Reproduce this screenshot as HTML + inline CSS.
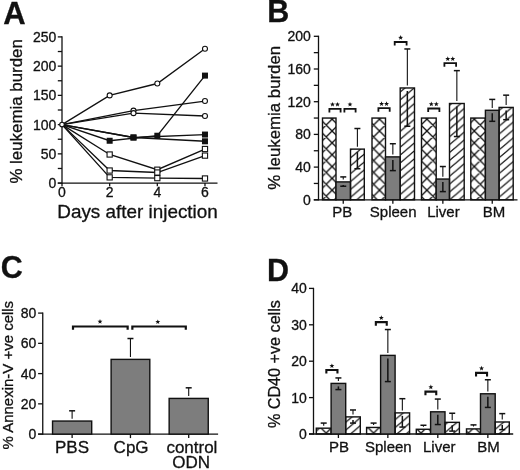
<!DOCTYPE html>
<html><head><meta charset="utf-8"><style>
html,body{margin:0;padding:0;background:#fff;}
svg{display:block;will-change:transform;}
text{font-family:"Liberation Sans", sans-serif;fill:#111;stroke:#111;stroke-width:0.3px;}
</style></head><body>
<svg width="520" height="470" viewBox="0 0 520 470">
<rect width="520" height="470" fill="#fff"/>
<text x="3.2" y="23.8" font-size="31" font-weight="bold">A</text>
<line x1="62" y1="36.3" x2="62" y2="183.7" stroke="#111" stroke-width="1.3"/>
<line x1="57.8" y1="183.1" x2="62" y2="183.1" stroke="#111" stroke-width="1.3"/>
<line x1="57.8" y1="168.48" x2="62" y2="168.48" stroke="#111" stroke-width="1.3"/>
<line x1="57.8" y1="153.86" x2="62" y2="153.86" stroke="#111" stroke-width="1.3"/>
<line x1="57.8" y1="139.24" x2="62" y2="139.24" stroke="#111" stroke-width="1.3"/>
<line x1="57.8" y1="124.62" x2="62" y2="124.62" stroke="#111" stroke-width="1.3"/>
<line x1="57.8" y1="110" x2="62" y2="110" stroke="#111" stroke-width="1.3"/>
<line x1="57.8" y1="95.38" x2="62" y2="95.38" stroke="#111" stroke-width="1.3"/>
<line x1="57.8" y1="80.76" x2="62" y2="80.76" stroke="#111" stroke-width="1.3"/>
<line x1="57.8" y1="66.14" x2="62" y2="66.14" stroke="#111" stroke-width="1.3"/>
<line x1="57.8" y1="51.52" x2="62" y2="51.52" stroke="#111" stroke-width="1.3"/>
<line x1="57.8" y1="36.9" x2="62" y2="36.9" stroke="#111" stroke-width="1.3"/>
<text x="56.3" y="188.1" font-size="14" text-anchor="end">0</text>
<text x="56.3" y="158.86" font-size="14" text-anchor="end">50</text>
<text x="56.3" y="129.62" font-size="14" text-anchor="end">100</text>
<text x="56.3" y="100.38" font-size="14" text-anchor="end">150</text>
<text x="56.3" y="71.14" font-size="14" text-anchor="end">200</text>
<text x="56.3" y="41.9" font-size="14" text-anchor="end">250</text>
<line x1="57.8" y1="183.1" x2="217.5" y2="183.1" stroke="#111" stroke-width="1.3"/>
<line x1="62" y1="183.1" x2="62" y2="186.3" stroke="#111" stroke-width="1.3"/>
<text x="62" y="197.4" font-size="14" text-anchor="middle">0</text>
<line x1="109.66" y1="183.1" x2="109.66" y2="186.3" stroke="#111" stroke-width="1.3"/>
<text x="109.66" y="197.4" font-size="14" text-anchor="middle">2</text>
<line x1="157.32" y1="183.1" x2="157.32" y2="186.3" stroke="#111" stroke-width="1.3"/>
<text x="157.32" y="197.4" font-size="14" text-anchor="middle">4</text>
<line x1="204.98" y1="183.1" x2="204.98" y2="186.3" stroke="#111" stroke-width="1.3"/>
<text x="204.98" y="197.4" font-size="14" text-anchor="middle">6</text>
<text x="57.3" y="217.5" font-size="18.5" textLength="160.5" lengthAdjust="spacingAndGlyphs">Days after injection</text>
<text x="22.3" y="183.6" font-size="17" textLength="144.5" lengthAdjust="spacingAndGlyphs" transform="rotate(-90 22.3 183.6)">% leukemia burden</text>
<polyline points="62,124.62 109.66,95.38 157.32,83.51 204.98,48.77" fill="none" stroke="#111" stroke-width="1.35"/>
<polyline points="62,124.62 133.49,110.58 204.98,101.05" fill="none" stroke="#111" stroke-width="1.35"/>
<polyline points="62,124.62 133.49,113.16 204.98,116.02" fill="none" stroke="#111" stroke-width="1.35"/>
<polyline points="62,124.62 109.66,140.76 157.32,135.73 204.98,75.61" fill="none" stroke="#111" stroke-width="1.35"/>
<polyline points="62,124.62 133.49,137.49 204.98,134.56" fill="none" stroke="#111" stroke-width="1.35"/>
<polyline points="62,124.62 133.49,137.49 204.98,141.29" fill="none" stroke="#111" stroke-width="1.35"/>
<polyline points="62,124.62 109.66,154.5 157.32,169.71 204.98,149.01" fill="none" stroke="#111" stroke-width="1.35"/>
<polyline points="62,124.62 109.66,170.53 157.32,172.52 204.98,155.61" fill="none" stroke="#111" stroke-width="1.35"/>
<polyline points="62,124.62 109.66,177.37 157.32,178.13 204.98,178.48" fill="none" stroke="#111" stroke-width="1.35"/>
<circle cx="109.66" cy="95.38" r="2.5" fill="#fff" stroke="#111" stroke-width="1.1"/>
<circle cx="157.32" cy="83.51" r="2.5" fill="#fff" stroke="#111" stroke-width="1.1"/>
<circle cx="204.98" cy="48.77" r="2.5" fill="#fff" stroke="#111" stroke-width="1.1"/>
<circle cx="133.49" cy="110.58" r="2.5" fill="#fff" stroke="#111" stroke-width="1.1"/>
<circle cx="204.98" cy="101.05" r="2.5" fill="#fff" stroke="#111" stroke-width="1.1"/>
<circle cx="133.49" cy="113.16" r="2.5" fill="#fff" stroke="#111" stroke-width="1.1"/>
<circle cx="204.98" cy="116.02" r="2.5" fill="#fff" stroke="#111" stroke-width="1.1"/>
<rect x="106.66" y="137.76" width="6" height="6" fill="#111"/>
<rect x="154.32" y="132.73" width="6" height="6" fill="#111"/>
<rect x="201.98" y="72.61" width="6" height="6" fill="#111"/>
<rect x="130.49" y="134.49" width="6" height="6" fill="#111"/>
<rect x="201.98" y="131.56" width="6" height="6" fill="#111"/>
<rect x="130.49" y="134.49" width="6" height="6" fill="#111"/>
<rect x="201.98" y="138.29" width="6" height="6" fill="#111"/>
<rect x="107.06" y="151.9" width="5.2" height="5.2" fill="#fff" stroke="#111" stroke-width="1.1"/>
<rect x="154.72" y="167.11" width="5.2" height="5.2" fill="#fff" stroke="#111" stroke-width="1.1"/>
<rect x="202.38" y="146.41" width="5.2" height="5.2" fill="#fff" stroke="#111" stroke-width="1.1"/>
<rect x="107.06" y="167.93" width="5.2" height="5.2" fill="#fff" stroke="#111" stroke-width="1.1"/>
<rect x="154.72" y="169.92" width="5.2" height="5.2" fill="#fff" stroke="#111" stroke-width="1.1"/>
<rect x="202.38" y="153.01" width="5.2" height="5.2" fill="#fff" stroke="#111" stroke-width="1.1"/>
<rect x="107.06" y="174.77" width="5.2" height="5.2" fill="#fff" stroke="#111" stroke-width="1.1"/>
<rect x="154.72" y="175.53" width="5.2" height="5.2" fill="#fff" stroke="#111" stroke-width="1.1"/>
<rect x="202.38" y="175.88" width="5.2" height="5.2" fill="#fff" stroke="#111" stroke-width="1.1"/>
<circle cx="62" cy="124.62" r="2.3" fill="#fff" stroke="#111" stroke-width="1.1"/>
<text x="267.3" y="21.8" font-size="30.5" font-weight="bold">B</text>
<line x1="318.5" y1="35.7" x2="318.5" y2="200.4" stroke="#111" stroke-width="1.3"/>
<line x1="313.8" y1="199.8" x2="318.5" y2="199.8" stroke="#111" stroke-width="1.3"/>
<line x1="313.8" y1="183.45" x2="318.5" y2="183.45" stroke="#111" stroke-width="1.3"/>
<line x1="313.8" y1="167.1" x2="318.5" y2="167.1" stroke="#111" stroke-width="1.3"/>
<line x1="313.8" y1="150.75" x2="318.5" y2="150.75" stroke="#111" stroke-width="1.3"/>
<line x1="313.8" y1="134.4" x2="318.5" y2="134.4" stroke="#111" stroke-width="1.3"/>
<line x1="313.8" y1="118.05" x2="318.5" y2="118.05" stroke="#111" stroke-width="1.3"/>
<line x1="313.8" y1="101.7" x2="318.5" y2="101.7" stroke="#111" stroke-width="1.3"/>
<line x1="313.8" y1="85.35" x2="318.5" y2="85.35" stroke="#111" stroke-width="1.3"/>
<line x1="313.8" y1="69" x2="318.5" y2="69" stroke="#111" stroke-width="1.3"/>
<line x1="313.8" y1="52.65" x2="318.5" y2="52.65" stroke="#111" stroke-width="1.3"/>
<line x1="313.8" y1="36.3" x2="318.5" y2="36.3" stroke="#111" stroke-width="1.3"/>
<text x="310.8" y="204.8" font-size="14" text-anchor="end">0</text>
<text x="310.8" y="172.1" font-size="14" text-anchor="end">40</text>
<text x="310.8" y="139.4" font-size="14" text-anchor="end">80</text>
<text x="310.8" y="106.7" font-size="14" text-anchor="end">120</text>
<text x="310.8" y="74" font-size="14" text-anchor="end">160</text>
<text x="310.8" y="41.3" font-size="14" text-anchor="end">200</text>
<line x1="313.8" y1="199.8" x2="517.5" y2="199.8" stroke="#111" stroke-width="1.3"/>
<text x="280.4" y="189.8" font-size="17" textLength="144" lengthAdjust="spacingAndGlyphs" transform="rotate(-90 280.4 189.8)">% leukemia burden</text>
<defs><pattern id="xh" patternUnits="userSpaceOnUse" x="332.1" y="154.7" width="11.85" height="11.85"><path d="M0,0 L11.85,11.85 M0,11.85 L11.85,0 M-1,1 L1,-1 M10.85,12.85 L12.85,10.85 M-1,10.85 L1,12.85 M10.85,-1 L12.85,1" stroke="#111" stroke-width="1.35" fill="none"/></pattern><pattern id="dh" patternUnits="userSpaceOnUse" x="0" y="6.07" width="9.282" height="7.89"><path d="M-9.282,15.78 L18.564,-7.89 M-18.564,15.78 L9.282,-7.89 M0,15.78 L27.846,-7.89" stroke="#111" stroke-width="1.3" fill="none"/></pattern></defs>
<rect x="322.5" y="118.05" width="13.5" height="81.75" fill="url(#xh)" stroke="#111" stroke-width="1.4"/>
<rect x="336" y="181.9" width="14.5" height="17.9" fill="#7d7d7d" stroke="#111" stroke-width="1.4"/>
<rect x="350.5" y="149.12" width="13.8" height="50.69" fill="url(#dh)" stroke="#111" stroke-width="1.4"/>
<line x1="343.25" y1="176.91" x2="343.25" y2="179.5" stroke="#111" stroke-width="1.1"/>
<line x1="340.25" y1="176.91" x2="346.25" y2="176.91" stroke="#111" stroke-width="1.5"/>
<line x1="343.25" y1="184.9" x2="343.25" y2="186.23" stroke="#111" stroke-width="1.5"/>
<line x1="340.25" y1="186.23" x2="346.25" y2="186.23" stroke="#111" stroke-width="1.5"/>
<line x1="357.4" y1="128.51" x2="357.4" y2="146.72" stroke="#111" stroke-width="1.1"/>
<line x1="354.4" y1="128.51" x2="360.4" y2="128.51" stroke="#111" stroke-width="1.5"/>
<line x1="357.4" y1="152.12" x2="357.4" y2="168.74" stroke="#111" stroke-width="1.5"/>
<line x1="354.4" y1="168.74" x2="360.4" y2="168.74" stroke="#111" stroke-width="1.5"/>
<line x1="343.25" y1="199.8" x2="343.25" y2="203.8" stroke="#111" stroke-width="1.3"/>
<text x="342.35" y="216.8" font-size="15" text-anchor="middle">PB</text>
<rect x="372" y="118.05" width="13.5" height="81.75" fill="url(#xh)" stroke="#111" stroke-width="1.4"/>
<rect x="385.5" y="156.88" width="14.7" height="42.92" fill="#7d7d7d" stroke="#111" stroke-width="1.4"/>
<rect x="400.2" y="87.97" width="14.3" height="111.83" fill="url(#dh)" stroke="#111" stroke-width="1.4"/>
<line x1="392.85" y1="143.72" x2="392.85" y2="154.48" stroke="#111" stroke-width="1.1"/>
<line x1="389.85" y1="143.72" x2="395.85" y2="143.72" stroke="#111" stroke-width="1.5"/>
<line x1="392.85" y1="159.88" x2="392.85" y2="170.62" stroke="#111" stroke-width="1.5"/>
<line x1="389.85" y1="170.62" x2="395.85" y2="170.62" stroke="#111" stroke-width="1.5"/>
<line x1="407.35" y1="48.97" x2="407.35" y2="85.57" stroke="#111" stroke-width="1.1"/>
<line x1="404.35" y1="48.97" x2="410.35" y2="48.97" stroke="#111" stroke-width="1.5"/>
<line x1="407.35" y1="90.97" x2="407.35" y2="126.23" stroke="#111" stroke-width="1.5"/>
<line x1="404.35" y1="126.23" x2="410.35" y2="126.23" stroke="#111" stroke-width="1.5"/>
<line x1="392.85" y1="199.8" x2="392.85" y2="203.8" stroke="#111" stroke-width="1.3"/>
<text x="393.15" y="216.8" font-size="15" text-anchor="middle">Spleen</text>
<rect x="421.5" y="118.05" width="14.7" height="81.75" fill="url(#xh)" stroke="#111" stroke-width="1.4"/>
<rect x="436.2" y="179.04" width="13.3" height="20.76" fill="#7d7d7d" stroke="#111" stroke-width="1.4"/>
<rect x="449.5" y="103.5" width="14.7" height="96.3" fill="url(#dh)" stroke="#111" stroke-width="1.4"/>
<line x1="442.85" y1="166.53" x2="442.85" y2="176.64" stroke="#111" stroke-width="1.1"/>
<line x1="439.85" y1="166.53" x2="445.85" y2="166.53" stroke="#111" stroke-width="1.5"/>
<line x1="442.85" y1="182.04" x2="442.85" y2="191.62" stroke="#111" stroke-width="1.5"/>
<line x1="439.85" y1="191.62" x2="445.85" y2="191.62" stroke="#111" stroke-width="1.5"/>
<line x1="456.85" y1="70.64" x2="456.85" y2="101.1" stroke="#111" stroke-width="1.1"/>
<line x1="453.85" y1="70.64" x2="459.85" y2="70.64" stroke="#111" stroke-width="1.5"/>
<line x1="456.85" y1="106.5" x2="456.85" y2="136.53" stroke="#111" stroke-width="1.5"/>
<line x1="453.85" y1="136.53" x2="459.85" y2="136.53" stroke="#111" stroke-width="1.5"/>
<line x1="442.85" y1="199.8" x2="442.85" y2="203.8" stroke="#111" stroke-width="1.3"/>
<text x="443.45" y="216.8" font-size="15" text-anchor="middle">Liver</text>
<rect x="470.8" y="118.05" width="14.6" height="81.75" fill="url(#xh)" stroke="#111" stroke-width="1.4"/>
<rect x="485.4" y="110.28" width="13.7" height="89.52" fill="#7d7d7d" stroke="#111" stroke-width="1.4"/>
<rect x="499.1" y="107.42" width="14.1" height="92.38" fill="url(#dh)" stroke="#111" stroke-width="1.4"/>
<line x1="492.25" y1="99.41" x2="492.25" y2="107.88" stroke="#111" stroke-width="1.1"/>
<line x1="489.25" y1="99.41" x2="495.25" y2="99.41" stroke="#111" stroke-width="1.5"/>
<line x1="492.25" y1="113.28" x2="492.25" y2="121.32" stroke="#111" stroke-width="1.5"/>
<line x1="489.25" y1="121.32" x2="495.25" y2="121.32" stroke="#111" stroke-width="1.5"/>
<line x1="506.15" y1="95.16" x2="506.15" y2="105.02" stroke="#111" stroke-width="1.1"/>
<line x1="503.15" y1="95.16" x2="509.15" y2="95.16" stroke="#111" stroke-width="1.5"/>
<line x1="506.15" y1="110.42" x2="506.15" y2="119.69" stroke="#111" stroke-width="1.5"/>
<line x1="503.15" y1="119.69" x2="509.15" y2="119.69" stroke="#111" stroke-width="1.5"/>
<line x1="492.25" y1="199.8" x2="492.25" y2="203.8" stroke="#111" stroke-width="1.3"/>
<text x="494.05" y="216.8" font-size="15" text-anchor="middle">BM</text>
<path d="M329.4,112.4 V108.8 H340.6 V112.4" fill="none" stroke="#111" stroke-width="1.8" stroke-linejoin="miter"/>
<polygon points="332.5,101.9 333.15,103.61 334.97,103.7 333.55,104.84 334.03,106.6 332.5,105.6 330.97,106.6 331.45,104.84 330.03,103.7 331.85,103.61" fill="#111"/>
<polygon points="337.5,101.9 338.15,103.61 339.97,103.7 338.55,104.84 339.03,106.6 337.5,105.6 335.97,106.6 336.45,104.84 335.03,103.7 336.85,103.61" fill="#111"/>
<path d="M344.4,112.4 V108.8 H355.6 V112.4" fill="none" stroke="#111" stroke-width="1.8" stroke-linejoin="miter"/>
<polygon points="350,101.9 350.65,103.61 352.47,103.7 351.05,104.84 351.53,106.6 350,105.6 348.47,106.6 348.95,104.84 347.53,103.7 349.35,103.61" fill="#111"/>
<path d="M378.4,111.8 V108.2 H389.7 V111.8" fill="none" stroke="#111" stroke-width="1.8" stroke-linejoin="miter"/>
<polygon points="381.55,101.3 382.2,103.01 384.02,103.1 382.6,104.24 383.08,106 381.55,105 380.02,106 380.5,104.24 379.08,103.1 380.9,103.01" fill="#111"/>
<polygon points="386.55,101.3 387.2,103.01 389.02,103.1 387.6,104.24 388.08,106 386.55,105 385.02,106 385.5,104.24 384.08,103.1 385.9,103.01" fill="#111"/>
<path d="M394.7,45.6 V42 H406.6 V45.6" fill="none" stroke="#111" stroke-width="1.8" stroke-linejoin="miter"/>
<polygon points="400.65,35.1 401.3,36.81 403.12,36.9 401.7,38.04 402.18,39.8 400.65,38.8 399.12,39.8 399.6,38.04 398.18,36.9 400,36.81" fill="#111"/>
<path d="M428.2,112.1 V108.5 H439.4 V112.1" fill="none" stroke="#111" stroke-width="1.8" stroke-linejoin="miter"/>
<polygon points="431.3,101.6 431.95,103.31 433.77,103.4 432.35,104.54 432.83,106.3 431.3,105.3 429.77,106.3 430.25,104.54 428.83,103.4 430.65,103.31" fill="#111"/>
<polygon points="436.3,101.6 436.95,103.31 438.77,103.4 437.35,104.54 437.83,106.3 436.3,105.3 434.77,106.3 435.25,104.54 433.83,103.4 435.65,103.31" fill="#111"/>
<path d="M444.4,66.7 V63.1 H456.1 V66.7" fill="none" stroke="#111" stroke-width="1.8" stroke-linejoin="miter"/>
<polygon points="447.75,56.2 448.4,57.91 450.22,58 448.8,59.14 449.28,60.9 447.75,59.9 446.22,60.9 446.7,59.14 445.28,58 447.1,57.91" fill="#111"/>
<polygon points="452.75,56.2 453.4,57.91 455.22,58 453.8,59.14 454.28,60.9 452.75,59.9 451.22,60.9 451.7,59.14 450.28,58 452.1,57.91" fill="#111"/>
<text x="0.8" y="278.2" font-size="30.5" font-weight="bold">C</text>
<line x1="42.75" y1="312.5" x2="42.75" y2="434.7" stroke="#111" stroke-width="1.3"/>
<line x1="38.1" y1="434.1" x2="42.75" y2="434.1" stroke="#111" stroke-width="1.3"/>
<text x="36.3" y="439.1" font-size="14" text-anchor="end">0</text>
<line x1="38.1" y1="403.85" x2="42.75" y2="403.85" stroke="#111" stroke-width="1.3"/>
<text x="36.3" y="408.85" font-size="14" text-anchor="end">20</text>
<line x1="38.1" y1="373.6" x2="42.75" y2="373.6" stroke="#111" stroke-width="1.3"/>
<text x="36.3" y="378.6" font-size="14" text-anchor="end">40</text>
<line x1="38.1" y1="343.35" x2="42.75" y2="343.35" stroke="#111" stroke-width="1.3"/>
<text x="36.3" y="348.35" font-size="14" text-anchor="end">60</text>
<line x1="38.1" y1="313.1" x2="42.75" y2="313.1" stroke="#111" stroke-width="1.3"/>
<text x="36.3" y="318.1" font-size="14" text-anchor="end">80</text>
<line x1="38.1" y1="434.1" x2="218.1" y2="434.1" stroke="#111" stroke-width="1.3"/>
<text x="13" y="449.4" font-size="15.2" textLength="148.5" lengthAdjust="spacingAndGlyphs" transform="rotate(-90 13 449.4)">% Annexin-V +ve cells</text>
<rect x="52.55" y="421.05" width="39.15" height="13.05" fill="#7d7d7d" stroke="#111" stroke-width="1.4"/>
<line x1="72.12" y1="410.81" x2="72.12" y2="418.65" stroke="#111" stroke-width="1.1"/>
<line x1="69.12" y1="410.81" x2="75.12" y2="410.81" stroke="#111" stroke-width="1.5"/>
<line x1="72.12" y1="434.1" x2="72.12" y2="438.1" stroke="#111" stroke-width="1.3"/>
<rect x="111.1" y="359.38" width="38.7" height="74.72" fill="#7d7d7d" stroke="#111" stroke-width="1.4"/>
<line x1="130.45" y1="338.51" x2="130.45" y2="356.98" stroke="#111" stroke-width="1.1"/>
<line x1="127.45" y1="338.51" x2="133.45" y2="338.51" stroke="#111" stroke-width="1.5"/>
<line x1="130.45" y1="434.1" x2="130.45" y2="438.1" stroke="#111" stroke-width="1.3"/>
<rect x="169.15" y="398.41" width="39.1" height="35.69" fill="#7d7d7d" stroke="#111" stroke-width="1.4"/>
<line x1="188.7" y1="387.82" x2="188.7" y2="396.01" stroke="#111" stroke-width="1.1"/>
<line x1="185.7" y1="387.82" x2="191.7" y2="387.82" stroke="#111" stroke-width="1.5"/>
<line x1="188.7" y1="434.1" x2="188.7" y2="438.1" stroke="#111" stroke-width="1.3"/>
<text x="72" y="452.6" font-size="17" text-anchor="middle">PBS</text>
<text x="131.1" y="452.8" font-size="17" text-anchor="middle">CpG</text>
<text x="191.9" y="452.5" font-size="17" text-anchor="middle">control</text>
<text x="191.1" y="468.1" font-size="17" text-anchor="middle">ODN</text>
<path d="M73,329.7 V326.5 H127.65 V329.7" fill="none" stroke="#111" stroke-width="2.2" stroke-linejoin="miter"/>
<polygon points="100,319 100.65,320.71 102.47,320.8 101.05,321.94 101.53,323.7 100,322.7 98.47,323.7 98.95,321.94 97.53,320.8 99.35,320.71" fill="#111"/>
<path d="M132.35,329.7 V326.5 H185.8 V329.7" fill="none" stroke="#111" stroke-width="2.2" stroke-linejoin="miter"/>
<polygon points="157.8,319.4 158.45,321.11 160.27,321.2 158.85,322.34 159.33,324.1 157.8,323.1 156.27,324.1 156.75,322.34 155.33,321.2 157.15,321.11" fill="#111"/>
<text x="267.1" y="281.3" font-size="30.5" font-weight="bold">D</text>
<line x1="313.5" y1="287.8" x2="313.5" y2="434.6" stroke="#111" stroke-width="1.3"/>
<line x1="309" y1="434" x2="313.5" y2="434" stroke="#111" stroke-width="1.3"/>
<text x="306.8" y="439" font-size="14" text-anchor="end">0</text>
<line x1="309" y1="397.6" x2="313.5" y2="397.6" stroke="#111" stroke-width="1.3"/>
<text x="306.8" y="402.6" font-size="14" text-anchor="end">10</text>
<line x1="309" y1="361.2" x2="313.5" y2="361.2" stroke="#111" stroke-width="1.3"/>
<text x="306.8" y="366.2" font-size="14" text-anchor="end">20</text>
<line x1="309" y1="324.8" x2="313.5" y2="324.8" stroke="#111" stroke-width="1.3"/>
<text x="306.8" y="329.8" font-size="14" text-anchor="end">30</text>
<line x1="309" y1="288.4" x2="313.5" y2="288.4" stroke="#111" stroke-width="1.3"/>
<text x="306.8" y="293.4" font-size="14" text-anchor="end">40</text>
<line x1="309" y1="434" x2="513.2" y2="434" stroke="#111" stroke-width="1.3"/>
<text x="280.2" y="428.1" font-size="16.5" textLength="128" lengthAdjust="spacingAndGlyphs" transform="rotate(-90 280.2 428.1)">% CD40 +ve cells</text>
<rect x="316.3" y="428.18" width="14.8" height="5.82" fill="url(#xh)" stroke="#111" stroke-width="1.4"/>
<rect x="331.1" y="383.4" width="14.6" height="50.6" fill="#7d7d7d" stroke="#111" stroke-width="1.4"/>
<rect x="345.7" y="416.89" width="14.6" height="17.11" fill="url(#dh)" stroke="#111" stroke-width="1.4"/>
<line x1="323.7" y1="423.08" x2="323.7" y2="425.78" stroke="#111" stroke-width="1.1"/>
<line x1="320.7" y1="423.08" x2="326.7" y2="423.08" stroke="#111" stroke-width="1.5"/>
<line x1="338.4" y1="377.94" x2="338.4" y2="381" stroke="#111" stroke-width="1.1"/>
<line x1="335.4" y1="377.94" x2="341.4" y2="377.94" stroke="#111" stroke-width="1.5"/>
<line x1="338.4" y1="386.4" x2="338.4" y2="389.59" stroke="#111" stroke-width="1.5"/>
<line x1="335.4" y1="389.59" x2="341.4" y2="389.59" stroke="#111" stroke-width="1.5"/>
<line x1="353" y1="409.98" x2="353" y2="414.49" stroke="#111" stroke-width="1.1"/>
<line x1="350" y1="409.98" x2="356" y2="409.98" stroke="#111" stroke-width="1.5"/>
<line x1="353" y1="419.89" x2="353" y2="423.08" stroke="#111" stroke-width="1.5"/>
<line x1="350" y1="423.08" x2="356" y2="423.08" stroke="#111" stroke-width="1.5"/>
<line x1="338.4" y1="434" x2="338.4" y2="438" stroke="#111" stroke-width="1.3"/>
<text x="338.9" y="451.6" font-size="15" text-anchor="middle">PB</text>
<rect x="366.6" y="427.45" width="14" height="6.55" fill="url(#xh)" stroke="#111" stroke-width="1.4"/>
<rect x="380.6" y="355.38" width="14.5" height="78.62" fill="#7d7d7d" stroke="#111" stroke-width="1.4"/>
<rect x="395.1" y="412.89" width="14.5" height="21.11" fill="url(#dh)" stroke="#111" stroke-width="1.4"/>
<line x1="373.6" y1="423.08" x2="373.6" y2="425.05" stroke="#111" stroke-width="1.1"/>
<line x1="370.6" y1="423.08" x2="376.6" y2="423.08" stroke="#111" stroke-width="1.5"/>
<line x1="387.85" y1="329.53" x2="387.85" y2="352.98" stroke="#111" stroke-width="1.1"/>
<line x1="384.85" y1="329.53" x2="390.85" y2="329.53" stroke="#111" stroke-width="1.5"/>
<line x1="387.85" y1="358.38" x2="387.85" y2="381.58" stroke="#111" stroke-width="1.5"/>
<line x1="384.85" y1="381.58" x2="390.85" y2="381.58" stroke="#111" stroke-width="1.5"/>
<line x1="402.35" y1="398.69" x2="402.35" y2="410.49" stroke="#111" stroke-width="1.1"/>
<line x1="399.35" y1="398.69" x2="405.35" y2="398.69" stroke="#111" stroke-width="1.5"/>
<line x1="402.35" y1="415.89" x2="402.35" y2="427.08" stroke="#111" stroke-width="1.5"/>
<line x1="399.35" y1="427.08" x2="405.35" y2="427.08" stroke="#111" stroke-width="1.5"/>
<line x1="387.85" y1="434" x2="387.85" y2="438" stroke="#111" stroke-width="1.3"/>
<text x="388.35" y="451.6" font-size="15" text-anchor="middle">Spleen</text>
<rect x="416.3" y="429.27" width="14.3" height="4.73" fill="url(#xh)" stroke="#111" stroke-width="1.4"/>
<rect x="430.6" y="411.8" width="14.4" height="22.2" fill="#7d7d7d" stroke="#111" stroke-width="1.4"/>
<rect x="445" y="422.35" width="14.4" height="11.65" fill="url(#dh)" stroke="#111" stroke-width="1.4"/>
<line x1="423.45" y1="425.26" x2="423.45" y2="426.87" stroke="#111" stroke-width="1.1"/>
<line x1="420.45" y1="425.26" x2="426.45" y2="425.26" stroke="#111" stroke-width="1.5"/>
<line x1="437.8" y1="399.06" x2="437.8" y2="409.4" stroke="#111" stroke-width="1.1"/>
<line x1="434.8" y1="399.06" x2="440.8" y2="399.06" stroke="#111" stroke-width="1.5"/>
<line x1="437.8" y1="414.8" x2="437.8" y2="424.54" stroke="#111" stroke-width="1.5"/>
<line x1="434.8" y1="424.54" x2="440.8" y2="424.54" stroke="#111" stroke-width="1.5"/>
<line x1="452.2" y1="413.25" x2="452.2" y2="419.95" stroke="#111" stroke-width="1.1"/>
<line x1="449.2" y1="413.25" x2="455.2" y2="413.25" stroke="#111" stroke-width="1.5"/>
<line x1="452.2" y1="425.35" x2="452.2" y2="431.09" stroke="#111" stroke-width="1.5"/>
<line x1="449.2" y1="431.09" x2="455.2" y2="431.09" stroke="#111" stroke-width="1.5"/>
<line x1="437.8" y1="434" x2="437.8" y2="438" stroke="#111" stroke-width="1.3"/>
<text x="439.3" y="451.6" font-size="15" text-anchor="middle">Liver</text>
<rect x="466.5" y="428.9" width="14" height="5.1" fill="url(#xh)" stroke="#111" stroke-width="1.4"/>
<rect x="480.5" y="393.78" width="14.7" height="40.22" fill="#7d7d7d" stroke="#111" stroke-width="1.4"/>
<rect x="495.2" y="421.99" width="14.1" height="12.01" fill="url(#dh)" stroke="#111" stroke-width="1.4"/>
<line x1="473.5" y1="424.9" x2="473.5" y2="426.5" stroke="#111" stroke-width="1.1"/>
<line x1="470.5" y1="424.9" x2="476.5" y2="424.9" stroke="#111" stroke-width="1.5"/>
<line x1="487.85" y1="379.76" x2="487.85" y2="391.38" stroke="#111" stroke-width="1.1"/>
<line x1="484.85" y1="379.76" x2="490.85" y2="379.76" stroke="#111" stroke-width="1.5"/>
<line x1="487.85" y1="396.78" x2="487.85" y2="407.43" stroke="#111" stroke-width="1.5"/>
<line x1="484.85" y1="407.43" x2="490.85" y2="407.43" stroke="#111" stroke-width="1.5"/>
<line x1="502.25" y1="413.62" x2="502.25" y2="419.59" stroke="#111" stroke-width="1.1"/>
<line x1="499.25" y1="413.62" x2="505.25" y2="413.62" stroke="#111" stroke-width="1.5"/>
<line x1="502.25" y1="424.99" x2="502.25" y2="429.63" stroke="#111" stroke-width="1.5"/>
<line x1="499.25" y1="429.63" x2="505.25" y2="429.63" stroke="#111" stroke-width="1.5"/>
<line x1="487.85" y1="434" x2="487.85" y2="438" stroke="#111" stroke-width="1.3"/>
<text x="488.45" y="451.6" font-size="15" text-anchor="middle">BM</text>
<path d="M326.35,373.6 V370 H337.45 V373.6" fill="none" stroke="#111" stroke-width="2.1" stroke-linejoin="miter"/>
<polygon points="331.9,363.4 332.55,365.11 334.37,365.2 332.95,366.34 333.43,368.1 331.9,367.1 330.37,368.1 330.85,366.34 329.43,365.2 331.25,365.11" fill="#111"/>
<path d="M375.85,325.7 V322.1 H386.75 V325.7" fill="none" stroke="#111" stroke-width="2.1" stroke-linejoin="miter"/>
<polygon points="381.3,315.2 381.95,316.91 383.77,317 382.35,318.14 382.83,319.9 381.3,318.9 379.77,319.9 380.25,318.14 378.83,317 380.65,316.91" fill="#111"/>
<path d="M425.45,395.2 V391.6 H436.25 V395.2" fill="none" stroke="#111" stroke-width="2.1" stroke-linejoin="miter"/>
<polygon points="430.85,384.6 431.5,386.31 433.32,386.4 431.9,387.54 432.38,389.3 430.85,388.3 429.32,389.3 429.8,387.54 428.38,386.4 430.2,386.31" fill="#111"/>
<path d="M476.05,376.5 V372.9 H487.05 V376.5" fill="none" stroke="#111" stroke-width="2.1" stroke-linejoin="miter"/>
<polygon points="481.55,365.8 482.2,367.51 484.02,367.6 482.6,368.74 483.08,370.5 481.55,369.5 480.02,370.5 480.5,368.74 479.08,367.6 480.9,367.51" fill="#111"/>
</svg>
</body></html>
